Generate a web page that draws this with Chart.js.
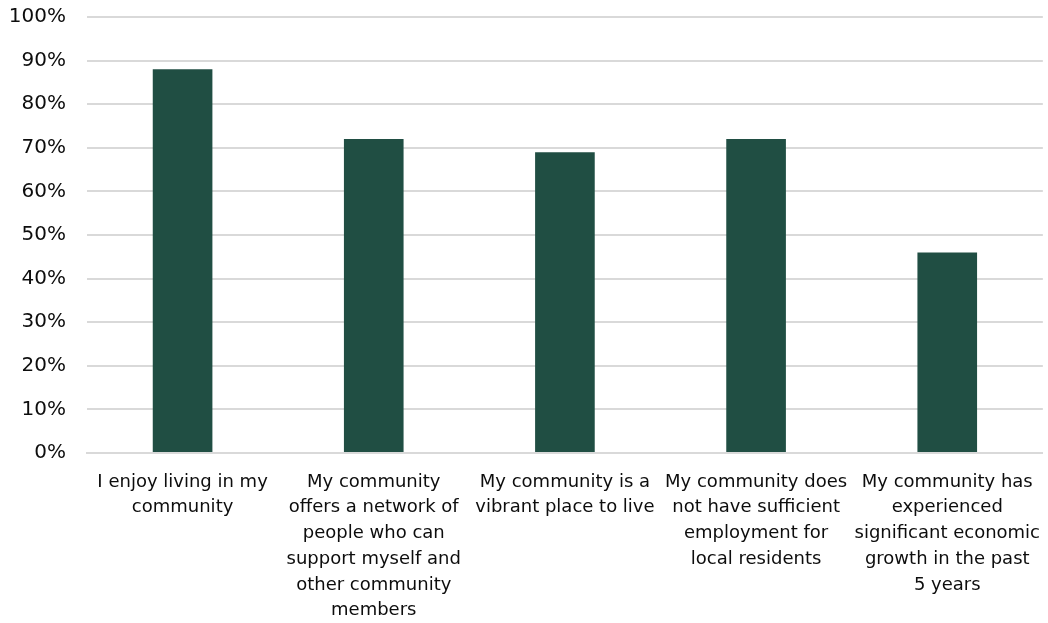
<!DOCTYPE html>
<html>
<head>
<meta charset="utf-8">
<script src="https://cdn.jsdelivr.net/npm/chart.js@4"></script>
<style>
  html, body { margin: 0; padding: 0; background: #fff; }
  #wrap { width: 1048px; height: 623px; }
</style>
</head>
<body>
<div id="wrap"><canvas id="chart" width="1048" height="623"></canvas></div>
<script>
// Survey statements (wrapped as in the original)
const categories = [
    ['I enjoy living in my', 'community'],
    ['My community', 'offers a network of', 'people who can', 'support myself and', 'other community', 'members'],
    ['My community is a', 'vibrant place to live'],
    ['My community does', 'not have sufficient', 'employment for', 'local residents'],
    ['My community has', 'experienced', 'significant economic', 'growth in the past', '5 years']
];
const agreeShare = [88, 72, 69, 72, 46];
const yTicks = [0, 10, 20, 30, 40, 50, 60, 70, 80, 90, 100];

const fontFamily = "'DejaVu Sans', 'Noto Sans', sans-serif";

const ctx = document.getElementById('chart').getContext('2d');
new Chart(ctx, {
    type: 'bar',
    data: {
        labels: categories,
        datasets: [{
            data: agreeShare,
            backgroundColor: '#204e43',
            barPercentage: 1,
            categoryPercentage: 0.312
        }]
    },
    options: {
        responsive: false,
        animation: false,
        layout: { padding: { top: 17, right: 0, left: 0, bottom: 0 } },
        plugins: {
            legend: { display: false },
            tooltip: { enabled: false }
        },
        scales: {
            x: {
                grid: { display: false },
                border: { color: '#d9d9d9', width: 2 },
                afterFit: s => { s.height = 170; },
                ticks: {
                    color: '#0d0d0d',
                    maxRotation: 0,
                    autoSkip: false,
                    padding: 8,
                    font: { family: fontFamily, size: 18, lineHeight: 1.43 }
                }
            },
            y: {
                min: 0,
                max: 100,
                afterBuildTicks: axis => { axis.ticks = yTicks.map(v => ({ value: v })); },
                afterFit: s => { s.width = 87; s.paddingTop = 0; s.paddingBottom = 0; },
                grid: { color: '#d9d9d9', lineWidth: 2, drawTicks: false },
                border: { display: false },
                ticks: {
                    color: '#0d0d0d',
                    padding: 21,
                    callback: v => v + '%',
                    font: { family: fontFamily, size: 20 }
                }
            }
        }
    }
});
</script>
</body>
</html>
